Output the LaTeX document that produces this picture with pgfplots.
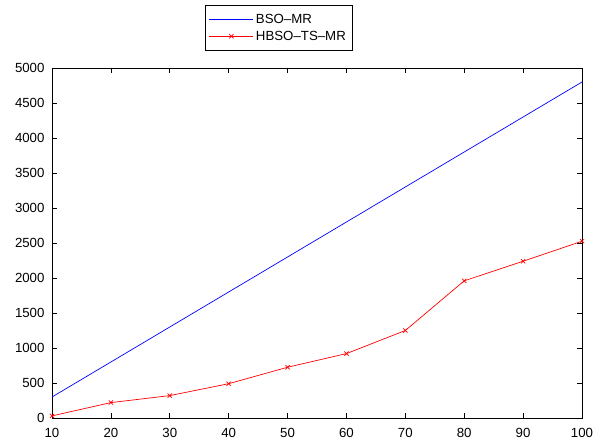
\documentclass[border=0pt]{standalone}
\usepackage{fontspec}
\setmainfont{Liberation Sans}
\usepackage{pgfplots}
\pgfplotsset{compat=1.18}
\begin{document}
\begin{tikzpicture}
\begin{axis}[
  scale only axis,
  width=530bp, height=350bp,
  xmin=10, xmax=100, ymin=0, ymax=5000,
  xtick={10,20,...,100},
  ytick={0,500,...,5000},
  tick align=inside,
  major tick length=5bp,
  axis line style={line width=0.9bp},
  every tick/.style={black, line width=0.6bp},
  tick label style={font=\fontsize{13.3}{15}\selectfont},
  /pgf/number format/assume math mode=true,
  /pgf/number format/1000 sep={},
  scaled y ticks=false,
  xticklabel style={yshift=-7bp},
  yticklabel style={xshift=-4bp},
  legend style={at={(0.427,1)}, anchor=south, yshift=17bp,
    font=\fontsize{13.3}{15}\selectfont, line width=0.6bp,
    inner xsep=4bp, inner ysep=7bp, row sep=2bp, cells={anchor=west}},
]
\addplot[blue, draw=blue, line width=0.7bp, mark=none,
  legend image code/.code={\color{blue}\pgfsetstrokecolor{blue}\draw[blue, line width=1.2bp] (0bp,0bp) -- (44bp,0bp);}] coordinates {
(10,300) (20,800) (30,1300) (40,1800) (50,2300) (60,2800) (70,3300) (80,3800) (90,4300) (100,4800)};
\addlegendentry{BSO--MR}
\addplot[red, draw=red, line width=0.7bp, mark=x, mark size=3bp,
  legend image code/.code={\color{red}\draw[mark repeat=2,mark phase=2,red,line width=0.7bp,mark=x,mark size=3bp] plot coordinates {(0bp,0bp) (22bp,0bp) (44bp,0bp)};}] coordinates {
(10,30) (20,220) (30,320) (40,490) (50,725) (60,920) (70,1250) (80,1960) (90,2240) (100,2525)};
\addlegendentry{HBSO--TS--MR}
\end{axis}
\pgfresetboundingbox
\path (-52bp,-27bp) rectangle (542bp,418bp);
\end{tikzpicture}
\end{document}
